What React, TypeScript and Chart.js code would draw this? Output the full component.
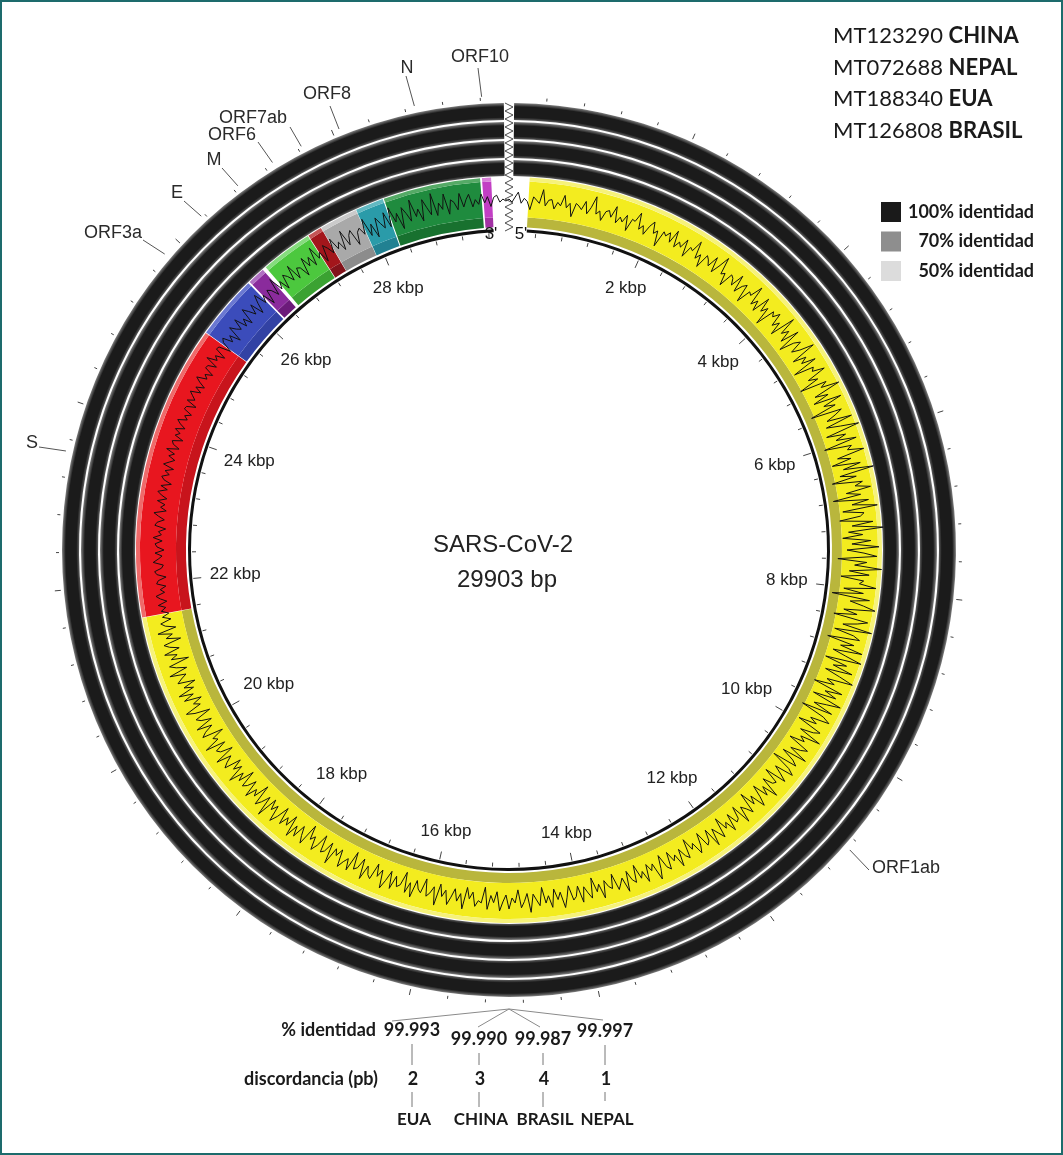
import React, { useEffect, useRef } from 'react';
import { Chart, registerables } from 'chart.js';

Chart.register(...registerables);

// ---------------- DATA ----------------
const GENOME_LENGTH = 29903;
const genomeName = 'SARS-CoV-2';

const geneNames = ['ORF1ab', 'S', 'ORF3a', 'E', 'M', 'ORF6', 'ORF7ab', 'ORF8', 'N', 'ORF10'];
const geneStarts = [266, 21563, 25393, 26245, 26523, 27202, 27394, 27894, 28274, 29558];
const geneEnds = [21555, 25384, 26220, 26472, 27191, 27387, 27887, 28259, 29533, 29674];
const geneColors = ['#f3ec1f', '#e8161f', '#3b4cbb', '#8a2b9c', '#4cc83e', '#a3161b', '#a9a9a9', '#2a9ba9', '#1f8b3e', '#c23fc4'];
const geneLightColors = ['#f6f27a', '#ef6a6a', '#6a78d2', '#b070c2', '#86dc7e', '#c45556', '#cacaca', '#62b9c2', '#55aa66', '#da82da'];
const geneDarkColors = ['#b9b63c', '#c8141c', '#3242a4', '#6c1b7a', '#3ba232', '#82121a', '#8c8c8c', '#218192', '#18712f', '#a231a4'];

const isolateAccessions = ['MT123290', 'MT072688', 'MT188340', 'MT126808'];
const isolateCountries = ['CHINA', 'NEPAL', 'EUA', 'BRASIL'];

const identityLevels = ['100% identidad', '70% identidad', '50% identidad'];
const identityColors = ['#1a1a1a', '#8e8e8e', '#dcdcdc'];

const summaryCountries = ['EUA', 'CHINA', 'BRASIL', 'NEPAL'];
const summaryIdentity = ['99.993', '99.990', '99.987', '99.997'];
const summaryDiscordance = [2, 3, 4, 1];

const kbpLabels = [2, 4, 6, 8, 10, 12, 14, 16, 18, 20, 22, 24, 26, 28];
const tickStepBp = 400;
const majorTickBp = 2000;
const ringBreakBp = 110;

// GC-skew-like trace, two values per degree (estimated)
const skewValues = [
  0.01, -0.02, 0.03, 0.08, -0.03, 0.02, -0.01, -0.09, 0.04, 0.01, -0.02, 0.12, -0.04, 0.02, 0.03, -0.06, 0.01, -0.02, 0.09, -0.03,
  0.02, -0.11, 0.03, 0.01, -0.02, 0.07, -0.05, 0.02, 0.14, -0.03, 0.01, -0.08, 0.02, 0.04, -0.02, 0.1, -0.06, 0.01, -0.03, 0.05,
  -0.1, 0.03, 0.02, 0.12, -0.04, 0.01, -0.07, 0.03, 0.09, -0.02, 0.02, -0.13, 0.04, 0.01, 0.06, -0.03, 0.11, -0.05, 0.02, -0.02,
  0.08, -0.09, 0.03, 0.01, 0.13, -0.04, 0.02, -0.1, 0.05, 0.02, -0.03, 0.09, -0.06, 0.03, 0.15, -0.02, 0.01, -0.11, 0.04, 0.02,
  -0.04, 0.1, -0.07, 0.02, 0.06, -0.12, 0.03, 0.01, 0.14, -0.05, 0.02, -0.08, 0.11, -0.03, 0.04, -0.14, 0.06, 0.02, 0.09, -0.04,
  0.03, -0.1, 0.16, -0.02, 0.05, -0.07, 0.12, -0.13, 0.02, 0.08, -0.05, 0.03, 0.17, -0.09, 0.04, -0.03, 0.11, -0.15, 0.05, 0.02,
  0.14, -0.06, 0.03, -0.18, 0.09, 0.02, 0.2, -0.08, 0.05, -0.12, 0.16, -0.04, 0.07, -0.2, 0.11, 0.03, -0.07, 0.18, -0.1, 0.04,
  0.22, -0.13, 0.06, -0.05, 0.15, -0.19, 0.08, 0.03, 0.19, -0.09, 0.04, -0.16, 0.12, -0.06, 0.24, -0.11, 0.05, -0.2, 0.1, 0.02,
  0.17, -0.08, 0.06, -0.22, 0.13, -0.04, 0.21, -0.14, 0.07, 0.03, -0.18, 0.15, -0.06, 0.25, -0.1, 0.04, -0.16, 0.12, -0.07, 0.2,
  -0.12, 0.05, 0.18, -0.21, 0.08, -0.04, 0.23, -0.09, 0.11, -0.17, 0.06, 0.02, 0.19, -0.13, 0.07, -0.24, 0.14, -0.05, 0.09, 0.21,
  -0.1, 0.04, -0.19, 0.16, 0.06, -0.08, 0.22, -0.15, 0.05, 0.12, -0.2, 0.08, -0.05, 0.18, -0.11, 0.03, 0.2, -0.16, 0.07, -0.06,
  0.15, -0.12, 0.04, 0.19, -0.07, 0.02, -0.18, 0.13, -0.04, 0.09, -0.14, 0.17, 0.03, -0.09, 0.12, -0.19, 0.06, 0.14, -0.05, 0.03,
  -0.15, 0.11, 0.05, -0.08, 0.16, -0.04, 0.02, -0.13, 0.1, 0.04, -0.06, 0.14, -0.11, 0.03, 0.09, -0.16, 0.05, 0.12, -0.07, 0.02,
  0.1, -0.12, 0.04, 0.02, -0.08, 0.13, -0.03, 0.06, -0.1, 0.02, 0.11, -0.05, 0.03, -0.13, 0.08, 0.01, -0.04, 0.12, -0.09, 0.03,
  0.05, -0.07, 0.1, -0.02, 0.03, -0.11, 0.09, 0.02, -0.05, 0.12, -0.08, 0.03, 0.06, -0.1, 0.02, 0.09, -0.04, 0.01, -0.12, 0.07,
  0.03, -0.06, 0.11, -0.03, 0.02, -0.09, 0.08, 0.04, -0.1, 0.03, 0.13, -0.05, 0.01, -0.07, 0.1, -0.02, 0.04, -0.11, 0.06, 0.02,
  -0.08, 0.12, -0.03, 0.02, 0.07, -0.1, 0.04, 0.01, -0.06, 0.11, -0.04, 0.03, -0.12, 0.08, 0.02, -0.05, 0.1, -0.07, 0.03, 0.06,
  -0.09, 0.02, 0.12, -0.04, 0.03, -0.08, 0.1, -0.02, 0.05, -0.11, 0.07, 0.01, -0.05, 0.13, -0.06, 0.02, 0.08, -0.1, 0.03, -0.02,
  0.09, -0.05, 0.02, 0.11, -0.08, 0.03, -0.04, 0.1, -0.12, 0.04, 0.02, 0.08, -0.06, 0.01, -0.1, 0.12, -0.03, 0.05, -0.07, 0.02,
  0.1, -0.04, 0.03, -0.09, 0.13, -0.05, 0.02, 0.06, -0.11, 0.04, 0.01, -0.07, 0.11, -0.03, 0.08, -0.12, 0.02, 0.05, -0.05, 0.09,
  -0.08, 0.03, 0.12, -0.06, 0.02, -0.1, 0.07, 0.04, -0.04, 0.11, -0.09, 0.02, 0.05, -0.12, 0.09, -0.02, 0.03, 0.1, -0.07, 0.01,
  -0.05, 0.13, -0.08, 0.03, 0.06, -0.11, 0.02, 0.09, -0.04, 0.01, -0.13, 0.1, 0.03, -0.06, 0.08, -0.02, 0.12, -0.09, 0.04, -0.03,
  0.07, -0.1, 0.03, 0.11, -0.05, 0.02, -0.08, 0.14, -0.06, 0.03, 0.09, -0.12, 0.04, -0.02, 0.1, -0.07, 0.02, 0.06, -0.11, 0.05,
  -0.03, 0.12, -0.06, 0.02, -0.09, 0.08, 0.03, -0.04, 0.11, -0.1, 0.02, 0.05, -0.07, 0.13, -0.03, 0.01, -0.12, 0.09, 0.04, -0.05,
  0.1, -0.08, 0.02, 0.06, -0.11, 0.04, 0.12, -0.05, 0.01, -0.09, 0.08, -0.03, 0.11, -0.06, 0.03, -0.1, 0.07, 0.02, -0.04, 0.12,
  -0.07, 0.03, 0.09, -0.12, 0.05, -0.02, 0.1, -0.06, 0.03, 0.08, -0.1, 0.04, -0.03, 0.11, -0.08, 0.02, 0.06, -0.05, 0.03, -0.04,
  0.03, -0.02, 0.05, -0.04, 0.02, 0.06, -0.03, 0.01, -0.05, 0.04, 0.02, -0.06, 0.03, 0.05, -0.02, -0.04, 0.06, 0.01, -0.03, 0.04,
  -0.05, 0.02, 0.04, -0.03, 0.06, -0.02, 0.01, -0.06, 0.05, 0.03, -0.04, 0.02, 0.07, -0.05, 0.01, -0.03, 0.05, -0.04, 0.02, 0.06,
  -0.03, 0.04, -0.06, 0.02, 0.05, -0.02, 0.03, -0.05, 0.06, 0.01, -0.04, 0.03, -0.02, 0.07, -0.05, 0.02, 0.04, -0.06, 0.03, -0.01,
  0.05, -0.04, 0.02, 0.06, -0.03, 0.01, -0.05, 0.04, 0.03, -0.06, 0.05, -0.02, 0.02, 0.06, -0.04, 0.03, -0.05, 0.02, 0.07, -0.03,
  0.01, -0.06, 0.04, 0.03, -0.05, 0.08, -0.02, 0.02, -0.07, 0.05, 0.04, -0.08, 0.03, 0.06, -0.04, 0.02, -0.09, 0.07, 0.01, -0.03,
  0.08, -0.05, 0.02, -0.07, 0.09, 0.03, -0.04, 0.06, -0.08, 0.02, 0.1, -0.03, 0.04, -0.09, 0.05, 0.02, -0.06, 0.11, -0.04, 0.03,
  -0.08, 0.06, 0.02, -0.05, 0.1, -0.07, 0.03, 0.01, -0.1, 0.08, -0.03, 0.05, -0.06, 0.12, -0.02, 0.03, -0.09, 0.07, 0.02, -0.05,
  0.09, -0.04, 0.02, -0.08, 0.11, -0.06, 0.03, 0.07, -0.1, 0.02, 0.05, -0.03, 0.12, -0.07, 0.04, -0.11, 0.08, 0.01, -0.05, 0.1,
  -0.06, 0.13, -0.03, 0.05, -0.12, 0.09, 0.02, -0.07, 0.14, -0.04, 0.03, -0.1, 0.11, 0.02, -0.06, 0.15, -0.08, 0.04, -0.03, 0.12,
  -0.09, 0.05, 0.02, -0.06, 0.1, -0.04, 0.03, 0.08, -0.05, 0.02, -0.03, 0.07, -0.02, 0.04, -0.06, 0.03, 0.05, -0.02, 0.01, -0.01,
];

// ---------------- LAYOUT ----------------
const PAGE_W = 1063;
const PAGE_H = 1155;
const PAD = { left: 62, right: 107, top: 103, bottom: 158 };
const SANS = '"Liberation Sans", Arial, sans-serif';
const CAL = 'Lato, "Liberation Sans", sans-serif';
const BLANK = 'rgba(0,0,0,0)';

// text center and outer end of leader line for each gene label
const geneLabelLayout = [
  { tx: 906, ty: 868, lx: 869, ly: 870 },
  { tx: 32, ty: 443, lx: 39, ly: 447 },
  { tx: 113, ty: 233, lx: 143, ly: 240 },
  { tx: 177, ty: 193, lx: 184, ly: 201 },
  { tx: 214, ty: 160, lx: 222, ly: 168 },
  { tx: 232, ty: 135, lx: 258, ly: 142 },
  { tx: 253, ty: 118, lx: 290, ly: 127 },
  { tx: 327, ty: 94, lx: 330, ly: 106 },
  { tx: 407, ty: 68, lx: 406, ly: 76 },
  { tx: 480, ty: 57, lx: 478, ly: 68 },
];

function buildGeneSegments() {
  const vals: number[] = [];
  const idx: number[] = [];
  let pos = 0;
  for (let i = 0; i < geneNames.length; i++) {
    const s = geneStarts[i] - 1;
    if (s > pos) { vals.push(s - pos); idx.push(-1); }
    vals.push(geneEnds[i] - s); idx.push(i);
    pos = geneEnds[i];
  }
  if (GENOME_LENGTH > pos) { vals.push(GENOME_LENGTH - pos); idx.push(-1); }
  return { vals, idx };
}

const ringFill = (ctx: any) => {
  if (ctx.dataIndex !== 1) return BLANK;
  const chart = ctx.chart;
  const ca = chart.chartArea;
  const ctrl: any = chart.getDatasetMeta(ctx.datasetIndex).controller;
  if (!ca || !ctrl || !ctrl.outerRadius) return '#1a1a1a';
  const cx = (ca.left + ca.right) / 2;
  const cy = (ca.top + ca.bottom) / 2;
  const g = chart.ctx.createRadialGradient(cx, cy, ctrl.innerRadius, cx, cy, ctrl.outerRadius);
  g.addColorStop(0, '#5c5c5c');
  g.addColorStop(0.16, '#1b1b1b');
  g.addColorStop(0.78, '#1b1b1b');
  g.addColorStop(1, '#808080');
  return g;
};

const decorPlugin = {
  id: 'genomeDecor',
  afterDraw(chart: any) {
    const ctx: CanvasRenderingContext2D = chart.ctx;
    const s = chart.scales.r;
    const cx = s.xCenter;
    const cy = s.yCenter;
    const pt = (deg: number, r: number): [number, number] => {
      const a = (deg * Math.PI) / 180;
      return [cx + r * Math.sin(a), cy - r * Math.cos(a)];
    };
    const bpDeg = (bp: number) => (bp / GENOME_LENGTH) * 360;
    const line = (a: [number, number], b: [number, number]) => {
      ctx.beginPath(); ctx.moveTo(a[0], a[1]); ctx.lineTo(b[0], b[1]); ctx.stroke();
    };
    ctx.save();

    // outer & inner ticks
    ctx.strokeStyle = '#444';
    ctx.lineWidth = 1;
    for (let bp = tickStepBp; bp < GENOME_LENGTH - tickStepBp / 2; bp += tickStepBp) {
      const d = bpDeg(bp);
      const major = bp % majorTickBp === 0;
      line(pt(d, 450), pt(d, major ? 456 : 453));
      line(pt(d, 317), pt(d, major ? 309 : 313));
    }

    // kbp labels
    ctx.fillStyle = '#222';
    ctx.font = `17px ${SANS}`;
    ctx.textAlign = 'center';
    ctx.textBaseline = 'middle';
    kbpLabels.forEach((k) => {
      const txt = `${k} kbp`;
      const d = bpDeg(k * 1000);
      const a = (d * Math.PI) / 180;
      const w = ctx.measureText(txt).width;
      const half = Math.abs(Math.sin(a)) * w / 2 + Math.abs(Math.cos(a)) * 7;
      const p = pt(d, 301 - half);
      ctx.fillText(txt, p[0], p[1]);
    });

    // gene labels with leader lines
    ctx.font = `18px ${SANS}`;
    ctx.strokeStyle = '#555';
    geneNames.forEach((name, i) => {
      const mid = bpDeg((geneStarts[i] + geneEnds[i]) / 2);
      const L = geneLabelLayout[i];
      line(pt(mid, 454), [L.lx, L.ly]);
      ctx.fillStyle = '#2a2a2a';
      ctx.fillText(name, L.tx, L.ty);
    });

    // ring break zigzag
    ctx.strokeStyle = '#4a4a4a';
    ctx.lineWidth = 1;
    ctx.beginPath();
    let k = 0;
    for (let r = 447; r >= 316; r -= 4, k++) {
      const x = cx + (k % 2 === 0 ? -4 : 4);
      const y = cy - r;
      if (k === 0) ctx.moveTo(x, y); else ctx.lineTo(x, y);
    }
    ctx.stroke();

    ctx.fillStyle = '#111';
    ctx.font = `17px ${SANS}`;
    ctx.fillText("3'", cx - 18, cy - 316);
    ctx.fillText("5'", cx + 12, cy - 316);

    // center title
    ctx.fillStyle = '#222';
    ctx.font = `24px ${SANS}`;
    ctx.fillText(genomeName, cx - 6, cy - 5);
    ctx.fillText(`${GENOME_LENGTH} bp`, cx - 2, cy + 30);

    // isolates legend (top right)
    ctx.textAlign = 'left';
    isolateAccessions.forEach((acc, i) => {
      const y = 36 + i * 31.7;
      ctx.font = `22px ${CAL}`;
      ctx.fillStyle = '#1a1a1a';
      const t = acc + ' ';
      ctx.fillText(t, 833, y);
      const w = ctx.measureText(t).width;
      ctx.font = `bold 22px ${CAL}`;
      ctx.fillText(isolateCountries[i], 833 + w, y);
    });

    // identity legend
    identityLevels.forEach((lab, i) => {
      const y = 212 + i * 29.5;
      ctx.fillStyle = identityColors[i];
      ctx.fillRect(881, y - 10, 20, 20);
      ctx.fillStyle = '#1a1a1a';
      ctx.font = `bold 18px ${CAL}`;
      ctx.textAlign = 'right';
      ctx.fillText(lab, 1034, y);
      ctx.textAlign = 'left';
    });

    // bottom summary
    const colX = [412, 479, 543, 605];
    const idY = [1030, 1039, 1039, 1031];
    const apex: [number, number] = [509, 1009];
    const lineEnds: [number, number][] = [[392, 1021], [478, 1027], [540, 1027], [603, 1020]];
    ctx.strokeStyle = '#8a8a8a';
    lineEnds.forEach((e) => line(apex, e));
    ctx.strokeStyle = '#777';
    colX.forEach((x, i) => {
      line([x, idY[i] + 14], [x, 1065]);
      line([x, 1092], [x, i === 3 ? 1101 : 1107]);
    });
    ctx.fillStyle = '#1a1a1a';
    ctx.font = `bold 18px ${CAL}`;
    ctx.textAlign = 'right';
    ctx.fillText('% identidad', 376, 1030);
    ctx.fillText('discordancia (pb)', 378, 1079);
    ctx.textAlign = 'center';
    summaryCountries.forEach((c, i) => {
      ctx.font = `bold 18px ${CAL}`;
      ctx.fillText(summaryIdentity[i], colX[i], idY[i]);
      ctx.fillText(String(summaryDiscordance[i]), colX[i] + 1, 1079);
      ctx.font = `bold 17px ${CAL}`;
      ctx.fillText(c, colX[i] + 2, 1120);
    });

    ctx.restore();
  },
};

export default function App() {
  const ringRef = useRef<HTMLCanvasElement | null>(null);
  const traceRef = useRef<HTMLCanvasElement | null>(null);

  useEffect(() => {
    if (!ringRef.current || !traceRef.current) return;
    const { vals, idx } = buildGeneSegments();
    const ringData = [ringBreakBp / 2, GENOME_LENGTH - ringBreakBp, ringBreakBp / 2];
    const datasets: any[] = [];
    const add = (weight: number, data: number[], bg: any) =>
      datasets.push({ data, backgroundColor: bg, weight, borderWidth: 0, hoverOffset: 0, offset: 0 });
    const isoWeights = [17, 17, 17, 16];
    isolateCountries.forEach((_, i) => {
      if (i > 0) add(2, [GENOME_LENGTH], [BLANK]);
      add(isoWeights[i], ringData, ringFill);
    });
    add(1, [GENOME_LENGTH], [BLANK]);
    add(4, vals, idx.map((g) => (g < 0 ? BLANK : geneLightColors[g])));
    add(36, vals, idx.map((g) => (g < 0 ? BLANK : geneColors[g])));
    add(10, vals, idx.map((g) => (g < 0 ? BLANK : geneDarkColors[g])));
    add(2, [GENOME_LENGTH], [BLANK]);
    const first = geneStarts[0] - 1;
    const last = geneEnds[geneEnds.length - 1];
    add(3, [first, last - first, GENOME_LENGTH - last], [BLANK, '#111111', BLANK]);

    const rings = new Chart(ringRef.current, {
      type: 'doughnut',
      data: { labels: datasets[0].data.map((_: any, i: number) => String(i)), datasets },
      options: {
        responsive: false,
        animation: false,
        events: [],
        cutout: 318,
        layout: { padding: PAD },
        plugins: { legend: { display: false }, tooltip: { enabled: false } },
      } as any,
    });

    const trace = new Chart(traceRef.current, {
      type: 'radar',
      data: {
        labels: skewValues.map((_, i) => String(i)),
        datasets: [
          { data: skewValues, borderColor: '#121212', borderWidth: 1, pointRadius: 0, fill: false, tension: 0 },
        ],
      },
      options: {
        responsive: false,
        animation: false,
        events: [],
        layout: { padding: PAD },
        plugins: { legend: { display: false }, tooltip: { enabled: false } },
        scales: {
          r: {
            min: -3.5,
            max: 0.97,
            ticks: { display: false },
            grid: { display: false },
            angleLines: { display: false },
            pointLabels: { display: false },
          },
        },
      } as any,
      plugins: [decorPlugin],
    });

    return () => {
      rings.destroy();
      trace.destroy();
    };
  }, []);

  const abs: React.CSSProperties = { position: 'absolute', left: 0, top: 0, width: PAGE_W, height: PAGE_H };
  return (
    <div style={{ position: 'absolute', left: 0, top: 0, width: PAGE_W, height: PAGE_H, background: '#fff', overflow: 'hidden' }}>
      <canvas ref={ringRef} width={PAGE_W} height={PAGE_H} style={abs} />
      <canvas ref={traceRef} width={PAGE_W} height={PAGE_H} style={abs} />
      <div style={{ ...abs, boxSizing: 'border-box', border: '2px solid #1d6b6c', pointerEvents: 'none' }} />
    </div>
  );
}
